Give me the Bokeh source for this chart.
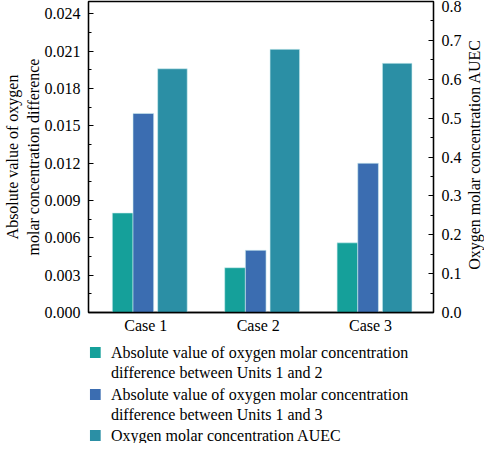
import math
import numpy as np
from bokeh.plotting import figure
from bokeh.layouts import column, row
from bokeh.models import (Range1d, LinearAxis, SingleIntervalTicker, FixedTicker,
                          PrintfTickFormatter)
from bokeh.embed import file_html
from bokeh.resources import INLINE
from bokeh.core.properties import value

# ---- data ----
cases = ["Case 1", "Case 2", "Case 3"]
diff_units_1_2 = [0.0080, 0.0036, 0.0056]
diff_units_1_3 = [0.0160, 0.0050, 0.0120]
auec = [0.627, 0.677, 0.641]
left_ticks_interval = 0.003
right_ticks_interval = 0.1
legend_labels = [
    "Absolute value of oxygen molar concentration\ndifference between Units 1 and 2",
    "Absolute value of oxygen molar concentration\ndifference between Units 1 and 3",
    "Oxygen molar concentration AUEC",
]
left_axis_title = "Absolute value of oxygen\nmolar concentration difference"
right_axis_title = "Oxygen molar concentration AUEC"

# ---- style ----
FONT = "Liberation Serif"
C_TEAL = "#15a09a"
C_BLUE = "#3b6db1"
C_AUEC = "#2b8fa5"
EDGE = "#cfeef0"

TW = 20            # width of the strip holding the right axis title
W = 484 - TW
H1 = 336
H2 = 107
BL, BR = 88, 22
FRAME_W = W - BL - BR

p = figure(width=W, height=H1, output_backend="svg", toolbar_location=None,
           x_range=Range1d(-0.51, 2.56), y_range=Range1d(0, 0.025),
           min_border_left=BL, min_border_right=BR, min_border_top=1,
           min_border_bottom=20)
p.extra_y_ranges = {"auec": Range1d(0, 0.8)}
p.xgrid.visible = False
p.ygrid.visible = False
p.outline_line_color = "black"
p.outline_line_width = 1.3
p.background_fill_color = "white"
p.border_fill_color = "white"

x = np.arange(len(cases))
p.vbar(x=x - 0.206, top=diff_units_1_2, width=0.184, bottom=0,
       fill_color=C_TEAL, line_color=EDGE, line_width=0.6)
p.vbar(x=x - 0.022, top=diff_units_1_3, width=0.184, bottom=0,
       fill_color=C_BLUE, line_color=EDGE, line_width=0.6)
p.vbar(x=x + 0.237, top=auec, width=0.263, bottom=0, y_range_name="auec",
       fill_color=C_AUEC, line_color=EDGE, line_width=0.6)

# x axis
xa = p.xaxis[0]
xa.ticker = FixedTicker(ticks=list(range(len(cases))))
xa.major_label_overrides = {i: c for i, c in enumerate(cases)}
xa.major_tick_in = 0
xa.major_tick_out = 0
xa.minor_tick_in = 0
xa.minor_tick_out = 0
xa.major_label_standoff = 4
xa.axis_line_width = 1.3
xa.major_label_text_font = FONT
xa.major_label_text_font_size = "16px"
xa.major_label_text_color = "black"


def style_y(ax):
    ax.major_tick_in = 5
    ax.major_tick_out = 0
    ax.minor_tick_in = 3
    ax.minor_tick_out = 0
    ax.axis_line_width = 1.3
    ax.major_tick_line_width = 1
    ax.minor_tick_line_width = 1
    ax.major_label_text_font = FONT
    ax.major_label_text_font_size = "16px"
    ax.major_label_text_color = "black"
    ax.axis_label_text_font = FONT
    ax.axis_label_text_font_size = "16px"
    ax.axis_label_text_font_style = "normal"
    ax.axis_label_text_color = "black"


ya = p.yaxis[0]
ya.ticker = SingleIntervalTicker(interval=left_ticks_interval, num_minor_ticks=2)
ya.formatter = PrintfTickFormatter(format="%.3f")
ya.axis_label = left_axis_title
style_y(ya)
ya.major_label_standoff = 8
ya.axis_label_standoff = 0

yr = LinearAxis(y_range_name="auec")
yr.ticker = SingleIntervalTicker(interval=right_ticks_interval, num_minor_ticks=2)
yr.formatter = PrintfTickFormatter(format="%.1f")
style_y(yr)
yr.major_label_standoff = 8
p.add_layout(yr, "right")

# ---- strip with the right axis title (pixel-mapped) ----
HT = H1 + H2
tf = figure(width=TW, height=HT, output_backend="svg", toolbar_location=None,
            x_range=Range1d(0, TW), y_range=Range1d(HT, 0),
            x_axis_type=None, y_axis_type=None,
            min_border_left=0, min_border_right=0, min_border_top=0,
            min_border_bottom=0)
tf.grid.visible = False
tf.outline_line_color = None
tf.background_fill_color = "white"
tf.border_fill_color = "white"
tf.text(x=[10], y=[154], text=[right_axis_title], angle=math.pi / 2,
        text_font=value(FONT), text_font_size="16px", text_align="center",
        text_baseline="middle", text_color="black")

# ---- legend panel (pixel-mapped frame aligned with the chart frame) ----
lg = figure(width=W, height=H2, output_backend="svg", toolbar_location=None,
            x_range=Range1d(0, FRAME_W), y_range=Range1d(H2, 0),
            x_axis_type=None, y_axis_type=None,
            min_border_left=BL, min_border_right=BR, min_border_top=0,
            min_border_bottom=0)
lg.grid.visible = False
lg.outline_line_color = None
lg.background_fill_color = "white"
lg.border_fill_color = "white"

colors = [C_TEAL, C_BLUE, C_AUEC]
item_y = [[16, 36], [58, 78], [99]]
tx, ty, tt = [], [], []
for lab, ys in zip(legend_labels, item_y):
    for t, yy in zip(lab.split("\n"), ys):
        tx.append(23)
        ty.append(yy)
        tt.append(t)
lg.rect(x=[7] * 3, y=[ys[0] for ys in item_y], width=11, height=11,
        fill_color=colors, line_color=None)
lg.text(x=tx, y=ty, text=tt, text_font=value(FONT),
        text_font_size="16px", text_baseline="middle", text_align="left",
        text_color="black")

layout = row(column(p, lg, spacing=0), tf, spacing=0)
open("out.html", "w").write(file_html(layout, INLINE))
